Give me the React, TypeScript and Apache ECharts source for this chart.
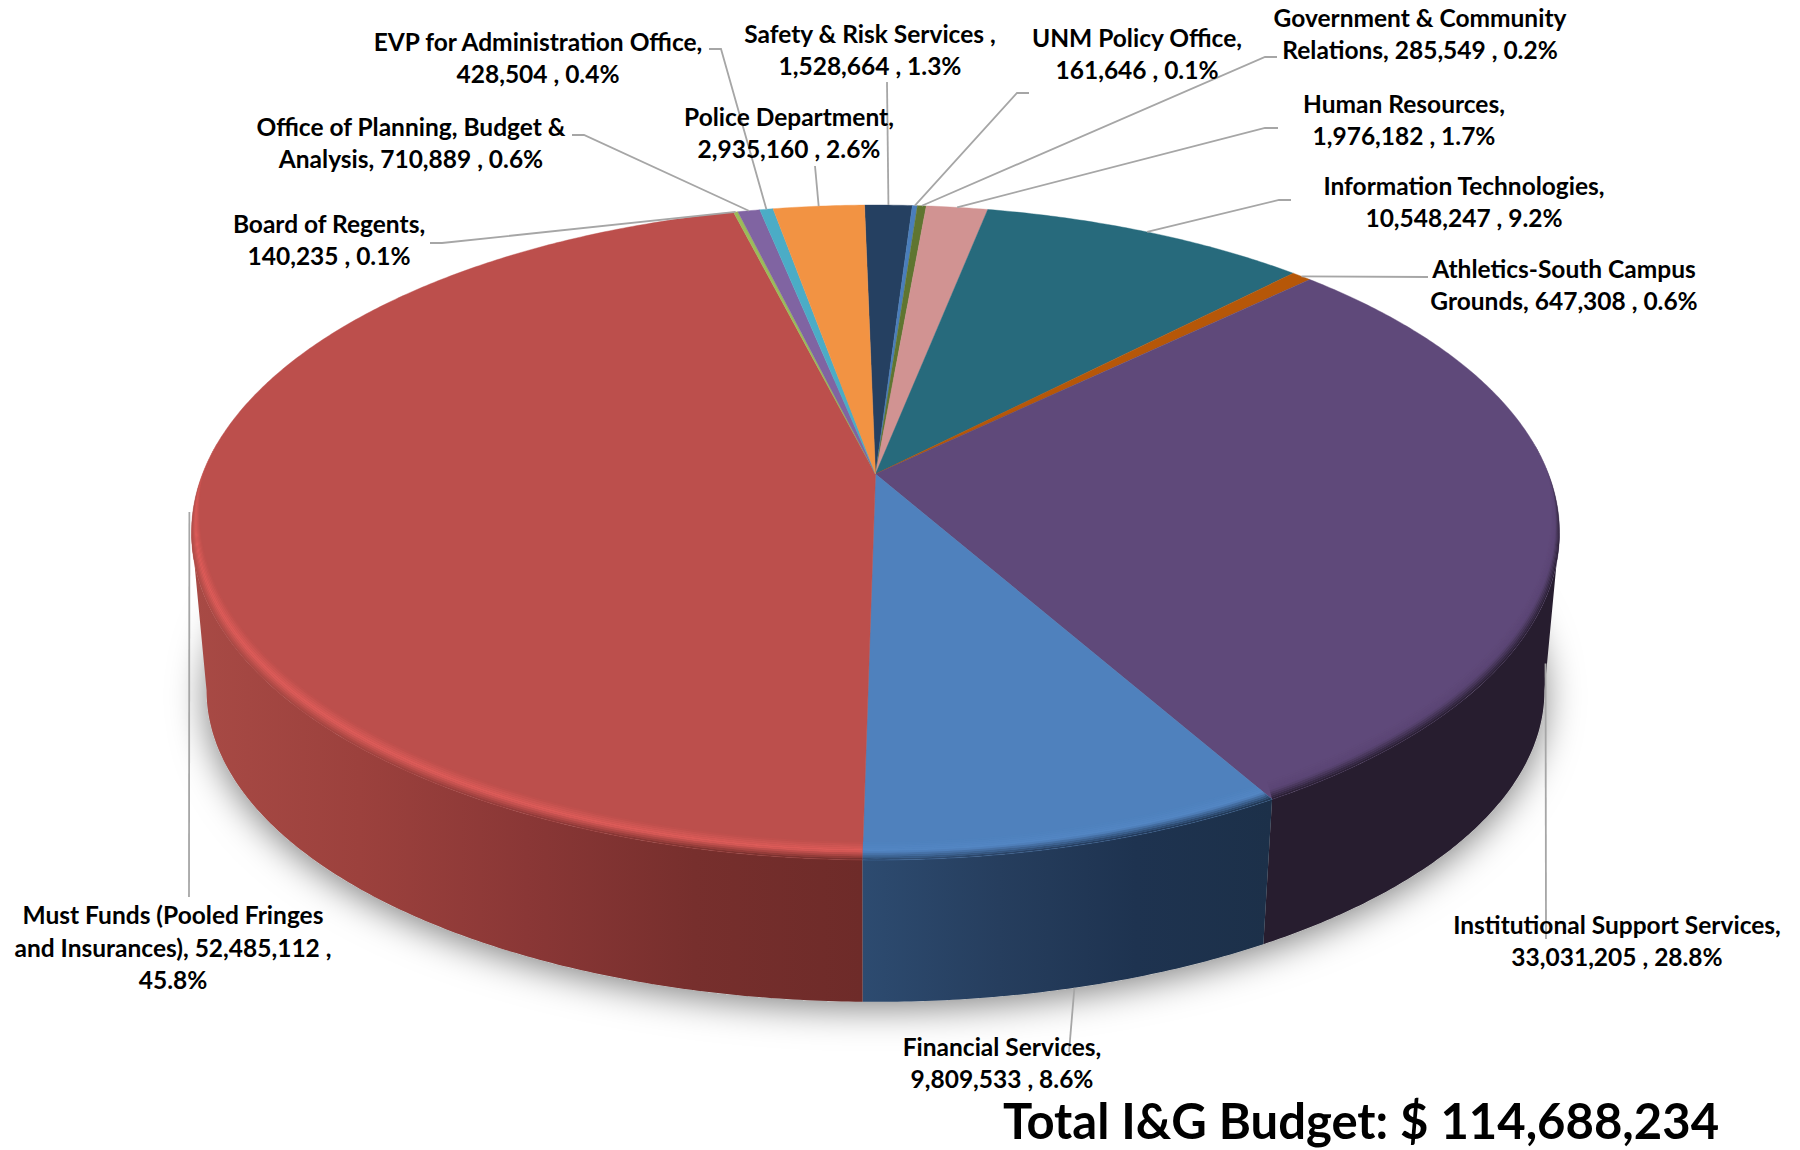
import React, { useEffect, useRef } from "react";
import * as echarts from "echarts";

// I&G budget by unit, clockwise from the top of the pie.
const sliceNames = [
  "Safety & Risk Services",
  "UNM Policy Office",
  "Government & Community Relations",
  "Human Resources",
  "Information Technologies",
  "Athletics-South Campus Grounds",
  "Institutional Support Services",
  "Financial Services",
  "Must Funds (Pooled Fringes and Insurances)",
  "Board of Regents",
  "Office of Planning, Budget & Analysis",
  "EVP for Administration Office",
  "Police Department",
];
const sliceValues = [
  1528664, 161646, 285549, 1976182, 10548247, 647308, 33031205, 9809533,
  52485112, 140235, 710889, 428504, 2935160,
];
const labelTexts = [
  "Safety & Risk Services ,\n1,528,664 , 1.3%",
  "UNM Policy Office,\n161,646 , 0.1%",
  "Government & Community\nRelations, 285,549 , 0.2%",
  "Human Resources,\n1,976,182 , 1.7%",
  "Information Technologies,\n10,548,247 , 9.2%",
  "Athletics-South Campus\nGrounds, 647,308 , 0.6%",
  "Institutional Support Services,\n33,031,205 , 28.8%",
  "Financial Services,\n9,809,533 , 8.6%",
  "Must Funds (Pooled Fringes\nand Insurances), 52,485,112 ,\n45.8%",
  "Board of Regents,\n140,235 , 0.1%",
  "Office of Planning, Budget &\nAnalysis, 710,889 , 0.6%",
  "EVP for Administration Office,\n428,504 , 0.4%",
  "Police Department,\n2,935,160 , 2.6%",
];
const totalLabel = "Total I&G Budget: $ 114,688,234";

const sliceColors = [
  "#254061", "#4A7EBB", "#5F7530", "#D19392", "#276A7C", "#B65708", "#5F497A",
  "#4F81BD", "#BC4F4C", "#9BBB59", "#8064A2", "#4BACC6", "#F29343",
];

// Label centres, leader bends, and where each leader lands on its slice.
const labelCentres: number[][] = [
  [870, 49.5], [1137, 53.5], [1420, 33.5], [1404, 119.5], [1464, 201.5], [1564, 284.5],
  [1617, 940.5], [1002, 1062.5], [173, 947], [329, 239.5], [411, 142.5], [538, 57.5], [789, 132.5],
];
const leaderBends: number[][][] = [
  [[887, 82]],
  [[1029, 93], [1017, 93]],
  [[1277, 57], [1265, 57]],
  [[1278, 128], [1265, 128]],
  [[1291, 200], [1279, 200]],
  [[1428, 277]],
  [[1546, 939]],
  [[1069, 1052]],
  [[189, 897]],
  [[430, 243], [442, 243]],
  [[572, 135], [584, 135]],
  [[709, 49], [721, 49]],
  [[815, 166]],
];
const leaderDepth = [0, 0, 0, 0, 0, 0, 0.9, 1, 0, 0, 0, 0, 0];
const leaderRadius = [1, 1, 1, 1, 1, 1, 1, 1, 1.005, 1, 1, 1, 1];

// Wall colours (left to right) and the highlight along the front edge.
const wallStops: Record<number, string[]> = {
  6: ["#271D2F", "#271D2F"],
  7: ["#2D4B70", "#263E5E", "#1E3350", "#1C3049"],
  8: ["#A84A45", "#9C413D", "#8A3736", "#772F2D", "#6E2B29"],
};
const rimPeak: Record<number, string> = { 6: "#5A4574", 7: "#5386C4", 8: "#DF5C59" };

// Perspective disc: the pie centre sits above the middle of the ellipse.
const CX = 875.5;
const CY = 474;
const PROJ_A = 673;
const PROJ_B = 317;
const PROJ_K = 0.1786;
const START_DEG = -1.1;
const BASE_CY = 690;
const TOP_CY = 532;
const BASE_SX = 0.978;
const BASE_SY = 0.951;
const RIM_DEPTH = 18;
const RIM_BANDS = 10;
// Angles at which the disc's outline is widest; walls only show between them.
const SIDE_RIGHT = 100.3;
const SIDE_LEFT = 259.7;

const total = sliceValues.reduce((a, b) => a + b, 0);
const rad = (d: number) => (d * Math.PI) / 180;

function sliceRange(i: number): [number, number] {
  let before = 0;
  for (let k = 0; k < i; k++) before += sliceValues[k];
  const a0 = START_DEG + (before / total) * 360;
  return [a0, a0 + (sliceValues[i] / total) * 360];
}

function project(deg: number, r = 1): number[] {
  const u = r * Math.sin(rad(deg));
  const v = -r * Math.cos(rad(deg));
  const den = 1 - PROJ_K * v;
  return [CX + (PROJ_A * u) / den, CY + (PROJ_B * v) / den];
}

function toBase(p: number[], depth = 1): number[] {
  const bx = CX + (p[0] - CX) * BASE_SX;
  const by = BASE_CY + (p[1] - TOP_CY) * BASE_SY;
  return [p[0] + (bx - p[0]) * depth, p[1] + (by - p[1]) * depth];
}

function arcAngles(a0: number, a1: number, step = 0.5): number[] {
  const out: number[] = [];
  const n = Math.max(2, Math.ceil((a1 - a0) / step));
  for (let i = 0; i <= n; i++) out.push(a0 + ((a1 - a0) * i) / n);
  return out;
}

function smooth(lo: number, hi: number, x: number): number {
  const t = Math.min(1, Math.max(0, (x - lo) / (hi - lo)));
  return t * t * (3 - 2 * t);
}

function radialX(deg: number, y: number): number {
  const p = project(deg);
  return CX + ((p[0] - CX) * (y - CY)) / (p[1] - CY);
}

// A point on the bevelled rim, kept inside its wedge where a side is in front.
function rimPoint(deg: number, t: number, a0: number, a1: number): number[] {
  const p = project(deg);
  const taper = smooth(-0.12, 0.18, -Math.cos(rad(deg)));
  let x = p[0] + (CX - p[0]) * 0.012 * t * taper;
  const y = p[1] - RIM_DEPTH * t * taper;
  if (a0 > 90 && a0 < 270) x = Math.min(x, radialX(a0, y));
  if (a1 > 90 && a1 < 270) x = Math.max(x, radialX(a1, y));
  return [x, y];
}

function mix(a: string, b: string, f: number): string {
  const pa = [1, 3, 5].map((i) => parseInt(a.slice(i, i + 2), 16));
  const pb = [1, 3, 5].map((i) => parseInt(b.slice(i, i + 2), 16));
  const hex = pa.map((c, i) => Math.round(c + (pb[i] - c) * f).toString(16).padStart(2, "0"));
  return "#" + hex.join("");
}

function horizontal(colors: string[]) {
  return new echarts.graphic.LinearGradient(
    0, 0, 1, 0,
    colors.map((color, i) => ({ offset: i / (colors.length - 1), color }))
  );
}

function App() {
  const ref = useRef<HTMLDivElement>(null);

  useEffect(() => {
    const chart = echarts.init(ref.current!, undefined, { renderer: "svg" });
    const sliceData = sliceValues.map((v) => [v]);

    const renderShadow = () => ({
      type: "polygon",
      silent: true,
      shape: { points: arcAngles(0, 360).map((d) => toBase(project(d))) },
      style: {
        fill: "#BDBDBD",
        shadowBlur: 36,
        shadowColor: "rgba(0,0,0,0.5)",
        shadowOffsetX: 0,
        shadowOffsetY: 6,
      },
    });

    const renderWall = (params: any) => {
      const i = params.dataIndex;
      const stops = wallStops[i];
      if (!stops) return { type: "group", children: [] };
      const [a0, a1] = sliceRange(i);
      const top = arcAngles(Math.max(a0, SIDE_RIGHT), Math.min(a1, SIDE_LEFT)).map((d) => project(d));
      const bottom = top.map((p) => toBase(p)).reverse();
      return {
        type: "polygon",
        silent: true,
        shape: { points: top.concat(bottom) },
        style: { fill: horizontal(stops) },
      };
    };

    const renderTop = (params: any) => {
      const i = params.dataIndex;
      const [a0, a1] = sliceRange(i);
      const pts = [[CX, CY]].concat(arcAngles(a0, a1).map((d) => project(d)));
      return {
        type: "polygon",
        silent: true,
        shape: { points: pts },
        style: { fill: sliceColors[i], stroke: sliceColors[i], lineWidth: 0.4 },
      };
    };

    const renderRim = (params: any) => {
      const i = params.dataIndex;
      if (!rimPeak[i]) return { type: "group", children: [] };
      const [a0, a1] = sliceRange(i);
      const angles = arcAngles(a0, a1);
      const stops = wallStops[i];
      const children: any[] = [];
      for (let b = 0; b < RIM_BANDS; b++) {
        const t0 = 1 - b / RIM_BANDS;
        const t1 = 1 - (b + 1) / RIM_BANDS;
        const f = (b + 0.5) / RIM_BANDS;
        const inner = angles.map((d) => rimPoint(d, t0, a0, a1));
        const outer = angles.map((d) => rimPoint(d, t1, a0, a1)).reverse();
        const fill =
          f < 0.5
            ? mix(sliceColors[i], rimPeak[i], f / 0.5)
            : horizontal(stops.map((s) => mix(rimPeak[i], s, (f - 0.5) / 0.5)));
        children.push({
          type: "polygon",
          silent: true,
          shape: { points: inner.concat(outer) },
          style: { fill },
        });
      }
      return { type: "group", children };
    };

    const renderLeader = (params: any) => {
      const i = params.dataIndex;
      const [a0, a1] = sliceRange(i);
      const anchor = toBase(project((a0 + a1) / 2, leaderRadius[i]), leaderDepth[i]);
      return {
        type: "polyline",
        silent: true,
        shape: { points: leaderBends[i].concat([anchor]) },
        style: { stroke: "#A6A6A6", lineWidth: 1.8, fill: "none" },
      };
    };

    const renderLabel = (params: any) => {
      const i = params.dataIndex;
      return {
        type: "text",
        silent: true,
        x: labelCentres[i][0],
        y: labelCentres[i][1],
        style: {
          text: labelTexts[i],
          fill: "#000000",
          font: "bold 24.5px Lato",
          lineHeight: 32.5,
          align: "center",
          verticalAlign: "middle",
        },
      };
    };

    const layer = (name: string, renderItem: any, z: number, data: any[] = sliceData) => ({
      type: "custom",
      name,
      coordinateSystem: "none",
      silent: true,
      z,
      data,
      renderItem,
    });

    chart.setOption({
      animation: false,
      backgroundColor: "#FFFFFF",
      tooltip: { show: false },
      series: [
        layer("shadow", renderShadow, 1, [[total]]),
        layer("walls", renderWall, 2),
        layer("faces", renderTop, 3),
        layer("rims", renderRim, 4),
        layer("leaders", renderLeader, 5),
        layer("labels", renderLabel, 6),
      ],
      graphic: [
        {
          type: "text",
          x: 1361,
          y: 1120,
          z: 10,
          style: {
            text: totalLabel,
            fill: "#000000",
            font: "bold 49px Lato",
            align: "center",
            verticalAlign: "middle",
          },
        },
      ],
    });
    return () => chart.dispose();
  }, []);

  return (
    <div
      ref={ref}
      style={{ position: "absolute", left: 0, top: 0, width: 1800, height: 1150 }}
    />
  );
}

export default App;
